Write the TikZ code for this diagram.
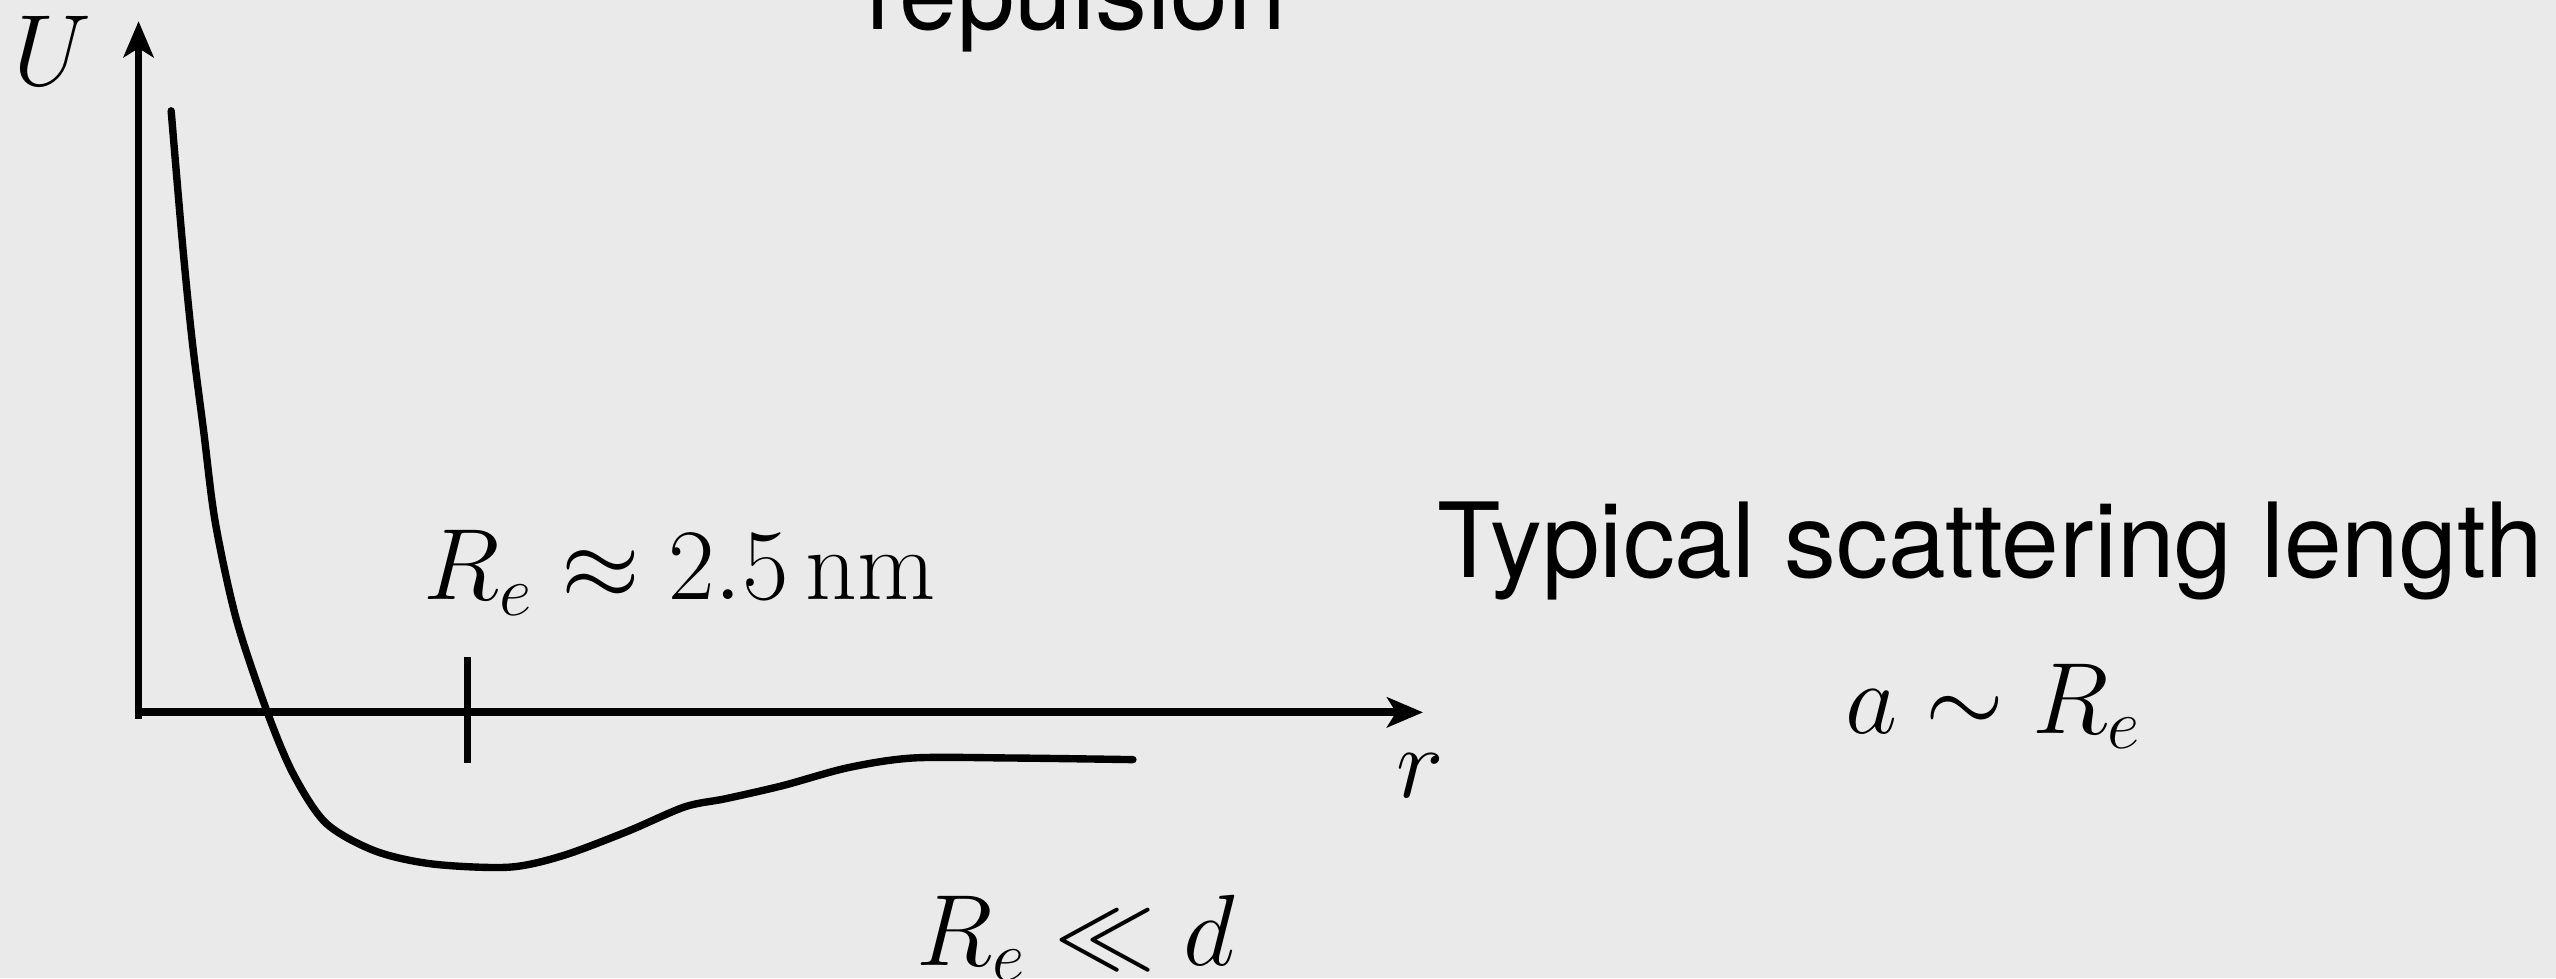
\RequirePackage{fix-cm}
\documentclass[tikz,border=0pt]{standalone}
\usepackage{fontspec}
\newfontfamily\labelfont{TeX Gyre Heros}
\usetikzlibrary{arrows.meta}
\definecolor{BackClr}{RGB}{234,234,234}
\newcommand\mathsize{\fontsize{28.8}{34}\selectfont}
\newcommand\textsize{\fontsize{29.5}{35}\selectfont}

\begin{document}
\begin{tikzpicture}[x=0.0163cm,y=-0.0163cm,
  axis/.style={line width=2.2pt,-{Stealth[length=0.36cm,width=0.3cm,inset=0.09cm]}},
  curve/.style={line width=2.1pt,line join=round,line cap=round},
  tickmark/.style={line width=2pt},
  mathlabel/.style={font=\mathsize,inner sep=0pt},
  textlabel/.style={font=\labelfont\textsize,inner sep=0pt}]

\fill[BackClr] (0,0) rectangle (1568,600);
\useasboundingbox (0,0) rectangle (1568,600);

\coordinate (O) at (85,437);
\coordinate (Corner) at (85,441);
\coordinate (Ytop) at (85,13);
\coordinate (Xend) at (873,437);
\coordinate (Tup) at (287,403);
\coordinate (Tdown) at (287,468);

\draw[axis] (Corner) -- (Ytop);
\draw[axis] (O) -- (Xend);
\draw[tickmark] (Tup) -- (Tdown);

\draw[curve] plot[smooth,tension=0.5] coordinates {(105,68) (112,150) (118,210)
  (125,265) (132,320) (145,380) (164,437) (180,475) (200,505) (230,522)
  (265,530) (312,532) (345,525) (385,510) (420,495) (445,490) (480,482)
  (520,471) (560,465) (620,465) (695,466)};

\node[mathlabel] (U) at (32,31) {$U$};
\node[mathlabel] (r) at (871,476) {$r$};
\node[mathlabel,anchor=base] (Re) at (417,368) {$R_e \approx 2.5\,\mathrm{nm}$};
\node[mathlabel,anchor=base] (Red) at (660,592) {$R_e \ll d$};
\node[mathlabel,anchor=base] (aRe) at (1223,450) {$a \sim R_e$};

\node[textlabel,anchor=base] (rep) at (660,18) {repulsion};
\node[textlabel,anchor=base] (typ) at (1221,354) {Typical scattering length};

\end{tikzpicture}
\end{document}
